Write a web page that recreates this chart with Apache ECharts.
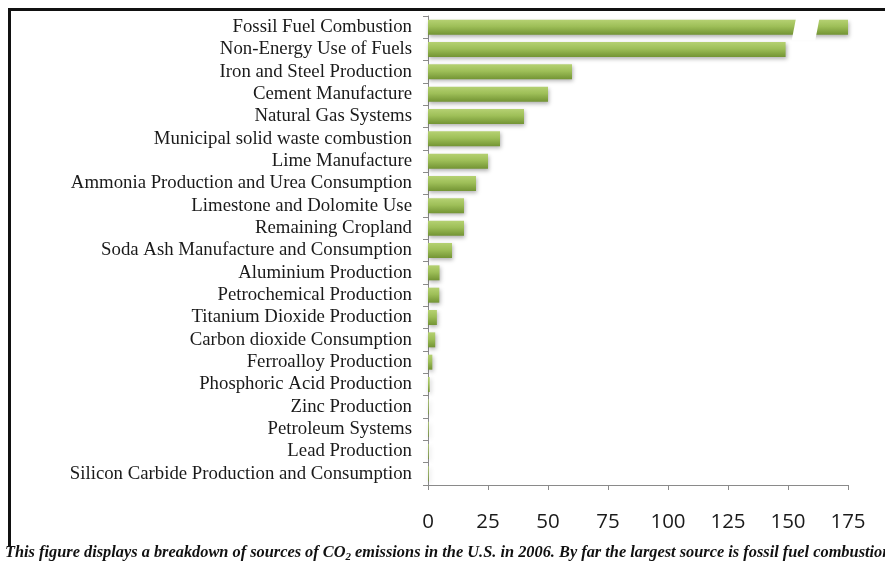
<!DOCTYPE html>
<html>
<head>
<meta charset="utf-8">
<script src="https://cdn.jsdelivr.net/npm/echarts@6/dist/echarts.min.js"></script>
<style>html,body{margin:0;padding:0;background:#fff;}#c{width:885px;height:566px;}</style>
</head>
<body>
<div id="c"></div>
<script>
var categories = [
  "Fossil Fuel Combustion",
  "Non-Energy Use of Fuels",
  "Iron and Steel Production",
  "Cement Manufacture",
  "Natural Gas Systems",
  "Municipal solid waste combustion",
  "Lime Manufacture",
  "Ammonia Production and Urea Consumption",
  "Limestone and Dolomite Use",
  "Remaining Cropland",
  "Soda Ash Manufacture and Consumption",
  "Aluminium Production",
  "Petrochemical Production",
  "Titanium Dioxide Production",
  "Carbon dioxide Consumption",
  "Ferroalloy Production",
  "Phosphoric Acid Production",
  "Zinc Production",
  "Petroleum Systems",
  "Lead Production",
  "Silicon Carbide Production and Consumption"
];
var values = [175, 149, 60, 50, 40, 30, 25, 20, 15, 15, 10, 4.8, 4.7, 3.7, 3, 1.8, 0.7, 0.3, 0.3, 0.3, 0.3];
var xTicks = [0, 25, 50, 75, 100, 125, 150, 175];
// axis break drawn across the first (off-scale) bar
var breakCategory = "Fossil Fuel Combustion";
var breakStart = 152.6;
var breakEnd = 162.4;
var captionText = "This figure displays a breakdown of sources of CO";
var captionText2 = " emissions in the U.S. in 2006. By far the largest source is fossil fuel combustion.";

var chart = echarts.init(document.getElementById('c'), null, {renderer: 'canvas'});
var barGrad = new echarts.graphic.LinearGradient(0, 0, 0, 1, [
  {offset: 0, color: '#b5d172'},
  {offset: 0.45, color: '#9ebf58'},
  {offset: 1, color: '#739434'}
]);
chart.setOption({
  animation: false,
  backgroundColor: '#ffffff',
  grid: {left: 428, right: 37, top: 16, bottom: 81, containLabel: false},
  xAxis: {
    type: 'value', min: xTicks[0], max: xTicks[xTicks.length - 1], interval: 25,
    axisLine: {show: true, lineStyle: {color: '#8a8a8a', width: 1}},
    axisTick: {show: true, length: 5, lineStyle: {color: '#8a8a8a'}},
    splitLine: {show: false},
    axisLabel: {fontFamily: 'Open Sans', fontSize: 20.5, color: '#1a1a1a', margin: 27}
  },
  yAxis: {
    type: 'category', inverse: true, data: categories,
    axisLine: {show: true, lineStyle: {color: '#8a8a8a', width: 1}},
    axisTick: {show: true, length: 5, lineStyle: {color: '#8a8a8a'}},
    axisLabel: {interval: 0, fontFamily: 'Liberation Serif', fontSize: 18.8, color: '#1a1a1a', margin: 16, padding: [3, 0, 0, 0]}
  },
  series: [
    {
      type: 'bar', data: values, barWidth: 15,
      itemStyle: {color: barGrad, shadowBlur: 4, shadowColor: 'rgba(0,0,0,0.3)', shadowOffsetX: 1, shadowOffsetY: 2},
      z: 2
    },
    {
      type: 'custom', z: 5, silent: true,
      data: [[breakStart, breakEnd, breakCategory]],
      encode: {x: [0, 1], y: 2},
      renderItem: function (params, api) {
        var y = api.coord([0, api.value(2)])[1];
        var x0 = api.coord([api.value(0), 0])[0];
        var x1 = api.coord([api.value(1), 0])[0];
        var h = 13;
        var s = 2.5;
        return {
          type: 'polygon',
          shape: {points: [[x0 - s, y + h], [x0 + s, y - h], [x1 + s, y - h], [x1 - s, y + h]]},
          style: {fill: '#ffffff'}
        };
      }
    }
  ],
  graphic: [
    {type: 'line', shape: {x1: 8, y1: 9.5, x2: 885, y2: 9.5}, style: {stroke: '#111', lineWidth: 3}},
    {type: 'line', shape: {x1: 9.5, y1: 8, x2: 9.5, y2: 546}, style: {stroke: '#111', lineWidth: 3}},
    {
      type: 'text', left: 5, top: 545,
      style: {
        rich: {
          a: {fontFamily: 'Liberation Serif', fontSize: 16.35, fontWeight: 'bold', fontStyle: 'italic', fill: '#111'},
          s: {fontFamily: 'Liberation Serif', fontSize: 11, fontWeight: 'bold', fontStyle: 'italic', fill: '#111', padding: [8, 0, 0, 0]}
        },
        text: '{a|' + captionText + '}{s|2}{a|' + captionText2 + '}'
      }
    }
  ]
});
</script>
</body>
</html>
